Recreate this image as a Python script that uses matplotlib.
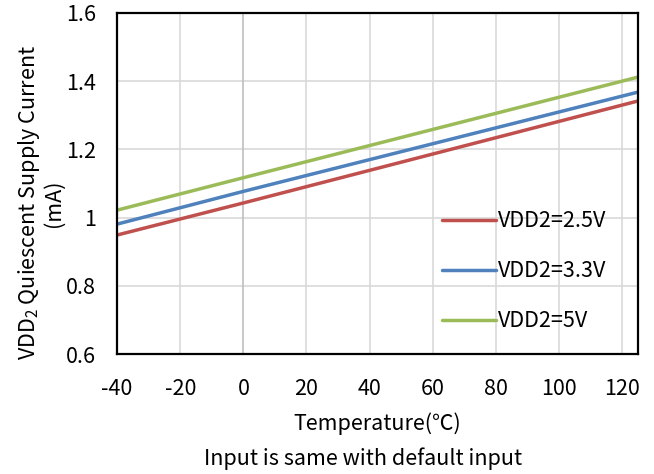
import matplotlib
matplotlib.use("Agg")
import matplotlib.pyplot as plt

plt.rcParams['font.family'] = ['Noto Sans CJK SC', 'DejaVu Sans']
plt.rcParams['mathtext.fontset'] = 'custom'
plt.rcParams['mathtext.rm'] = 'Noto Sans CJK SC'

temps = [-40, 0, 125]
vdd25 = [0.949, 1.043, 1.342]
vdd33 = [0.981, 1.077, 1.368]
vdd50 = [1.022, 1.117, 1.412]
labels = ['VDD2=2.5V', 'VDD2=3.3V', 'VDD2=5V']
colors = ['#c0504d', '#4f81bd', '#9bbb59']
xticks = [-40, -20, 0, 20, 40, 60, 80, 100, 120]
yticks = [0.6, 0.8, 1.0, 1.2, 1.4, 1.6]
yticklabels = ['0.6', '0.8', '1', '1.2', '1.4', '1.6']

FS = 15.5
fig = plt.figure(figsize=(6.54, 4.74), dpi=100)
ax = fig.add_axes([0.179, 0.253, 0.7965, 0.7196])

for x in xticks:
    if x != 0:
        ax.axvline(x, color='#d9d9d9', lw=1.2, zorder=0)
for y in yticks[1:-1]:
    ax.axhline(y, color='#d9d9d9', lw=1.2, zorder=0)
ax.axvline(0, color='#bfbfbf', lw=1.2, zorder=0)

for ys, lab, c in zip([vdd25, vdd33, vdd50], labels, colors):
    ax.plot(temps, ys, color=c, lw=2.5, label=lab, solid_capstyle='round')

ax.set_xlim(-40, 125)
ax.set_ylim(0.6, 1.6)
ax.set_xticks(xticks)
ax.set_xticklabels([str(v) for v in xticks])
ax.set_yticks(yticks)
ax.set_yticklabels(yticklabels)
ax.tick_params(length=0, labelsize=FS)
ax.tick_params(axis='y', pad=15)
ax.tick_params(axis='x', pad=17)
for s in ax.spines.values():
    s.set_linewidth(1.6)
    s.set_color('black')

ax.set_xlabel('Temperature(℃)', fontsize=FS, labelpad=9)
fig.text(0.062, 0.572, '$\\mathregular{VDD_2}$ Quiescent Supply Current\n(mA)',
         fontsize=FS, rotation=90, ha='center', va='center', linespacing=1.05,
         multialignment='center')

leg = ax.legend(loc='lower right', bbox_to_anchor=(0.968, 0.02), frameon=False,
                fontsize=FS, handlelength=2.5, handletextpad=0.1,
                labelspacing=1.3, borderaxespad=0.3)

fig.text(0.555, 0.02, 'Input is same with default input', ha='center', fontsize=FS)

fig.savefig('out.png', dpi=100)
